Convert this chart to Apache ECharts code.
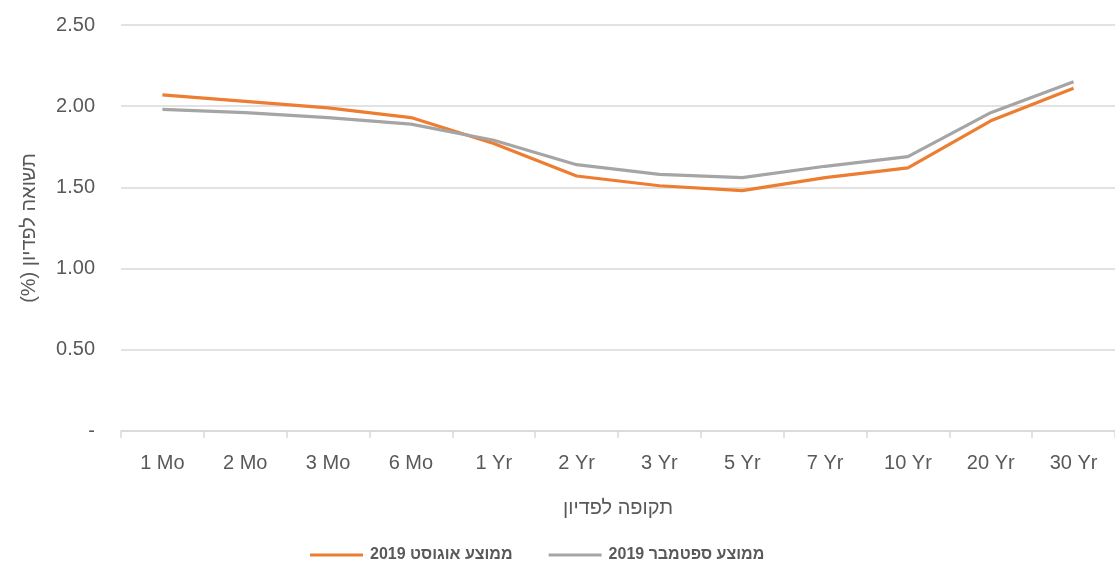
<!DOCTYPE html>
<html>
<head>
<meta charset="utf-8">
<script src="https://cdn.jsdelivr.net/npm/echarts@6/dist/echarts.min.js"></script>
<style>html,body{margin:0;padding:0;background:#fff}#c{width:1115px;height:565px}</style>
</head>
<body>
<div id="c"></div>
<script>
const categories = ['1 Mo','2 Mo','3 Mo','6 Mo','1 Yr','2 Yr','3 Yr','5 Yr','7 Yr','10 Yr','20 Yr','30 Yr'];
const augustAvg = [2.07, 2.03, 1.99, 1.93, 1.77, 1.57, 1.51, 1.48, 1.56, 1.62, 1.91, 2.11];
const septemberAvg = [1.98, 1.96, 1.93, 1.89, 1.79, 1.64, 1.58, 1.56, 1.63, 1.69, 1.96, 2.15];
const seriesNames = ['\u202Bממוצע אוגוסט 2019\u202C', '\u202Bממוצע ספטמבר 2019\u202C'];
const yAxisTitle = '\u202Bתשואה לפדיון (%)\u202C';
const xAxisTitle = '\u202Bתקופה לפדיון\u202C';

const chart = echarts.init(document.getElementById('c'), null, {renderer: 'canvas'});
const labelFont = '"Liberation Sans", sans-serif';
const hebFont = '"Liberation Sans", "DejaVu Sans", sans-serif';
chart.setOption({
  animation: false,
  backgroundColor: '#ffffff',
  grid: {left: 121, right: 0, top: 25, bottom: 134},
  legend: {
    data: seriesNames,
    top: 542,
    left: 305,
    icon: 'rect',
    itemWidth: 53,
    itemHeight: 3,
    itemGap: 36,
    textStyle: {color: '#595959', fontSize: 16, fontWeight: 'bold', fontFamily: hebFont, padding: [0, 0, 0, 2]}
  },
  xAxis: {
    type: 'category',
    data: categories,
    boundaryGap: true,
    name: xAxisTitle,
    nameLocation: 'middle',
    nameGap: 67,
    nameTextStyle: {color: '#595959', fontSize: 20, fontFamily: hebFont},
    axisLine: {lineStyle: {color: '#d9d9d9', width: 1.5}},
    axisTick: {show: true, length: 7, lineStyle: {color: '#d9d9d9', width: 1.5}},
    axisLabel: {color: '#595959', fontSize: 20, margin: 22, fontFamily: labelFont}
  },
  yAxis: {
    type: 'value',
    min: 0,
    max: 2.5,
    interval: 0.5,
    name: yAxisTitle,
    nameLocation: 'middle',
    nameGap: 82,
    nameTextStyle: {color: '#595959', fontSize: 20, fontFamily: hebFont},
    axisLine: {show: false},
    axisTick: {show: false},
    splitLine: {lineStyle: {color: '#d9d9d9', width: 1.5}},
    axisLabel: {
      color: '#595959', fontSize: 20, margin: 26, fontFamily: labelFont,
      formatter: v => v === 0 ? '-' : v.toFixed(2)
    }
  },
  series: [
    {name: seriesNames[0], type: 'line', data: augustAvg, symbol: 'none',
     lineStyle: {color: '#ED7D31', width: 3.2}, itemStyle: {color: '#ED7D31'}},
    {name: seriesNames[1], type: 'line', data: septemberAvg, symbol: 'none',
     lineStyle: {color: '#A5A5A5', width: 3.2}, itemStyle: {color: '#A5A5A5'}}
  ]
});
</script>
</body>
</html>
